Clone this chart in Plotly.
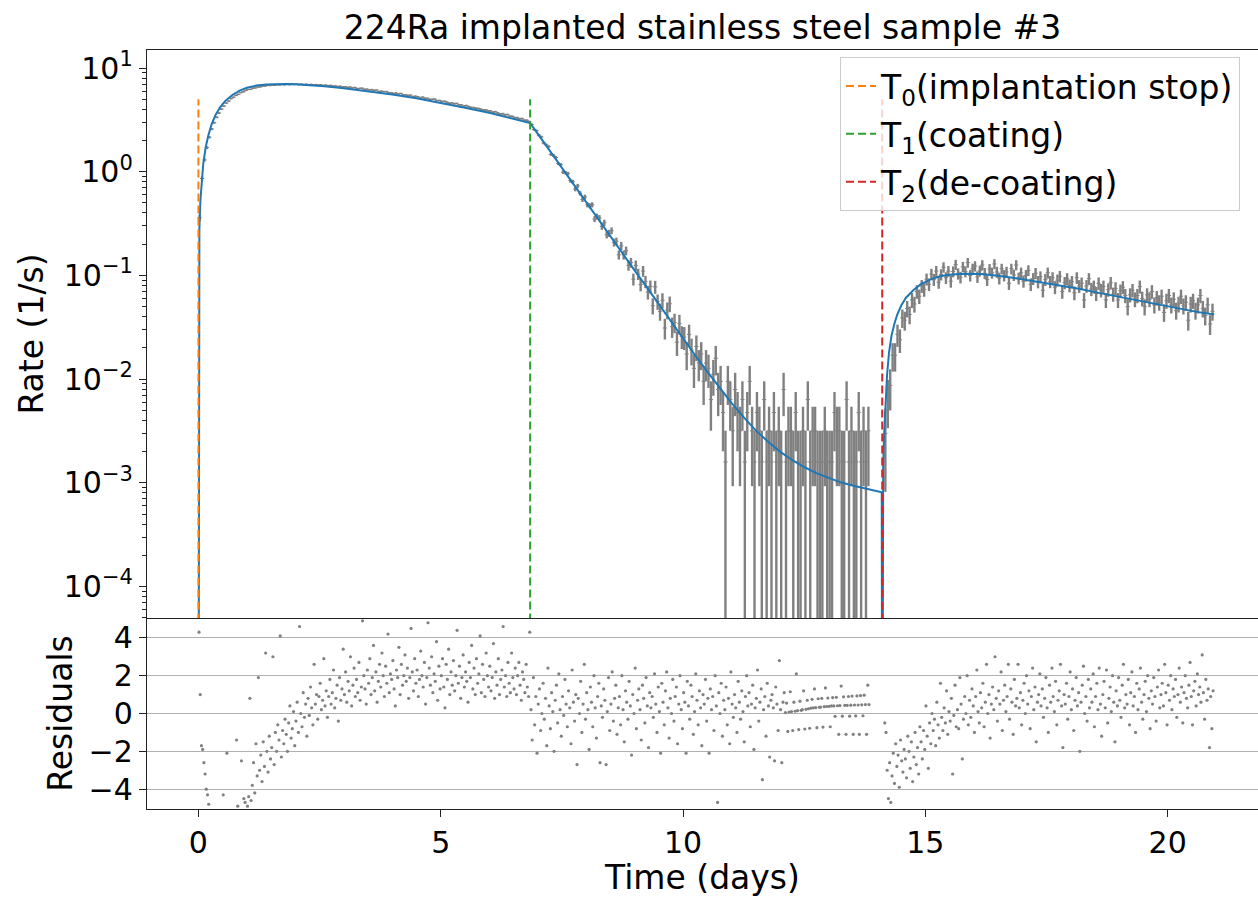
import numpy as np
import plotly.graph_objects as go
from plotly.subplots import make_subplots

TITLE = "224Ra implanted stainless steel sample #3"

# ---- marker times (days) ----
T_TIMES = [0.0, 6.845, 14.11]
T_NAMES = ["T<sub>0</sub>(implantation stop)", "T<sub>1</sub>(coating)", "T<sub>2</sub>(de-coating)"]
T_COLORS = ["#ff7f0e", "#2ca02c", "#d62728"]
T_LINE_TOP = 5.0
T_LINE_BOTTOM = 1e-7

# ---- fitted curve ----
fit1_t = [0.0, 0.005, 0.01, 0.02, 0.04, 0.07, 0.10, 0.15, 0.20, 0.27, 0.35, 0.45, 0.55, 0.70, 0.85, 1.00,
          1.20, 1.40, 1.60, 1.80, 2.00, 2.30, 2.60, 3.00, 3.50, 4.00, 4.50, 5.00, 5.50, 6.00, 6.50, 6.845]
fit1_r = [1e-7, 0.07, 0.14, 0.28, 0.52, 0.88, 1.2, 1.72, 2.2, 2.85, 3.5, 4.2, 4.8, 5.5, 6.05, 6.45,
          6.78, 6.95, 7.02, 7.02, 6.97, 6.85, 6.68, 6.4, 6.0, 5.55, 5.1, 4.62, 4.15, 3.7, 3.25, 2.95]
fit2_t = [7.0, 7.25, 7.5, 7.75, 8.0, 8.25, 8.5, 8.75, 9.0, 9.25, 9.5, 9.75, 10.0, 10.25, 10.5, 10.75,
          11.0, 11.25, 11.5, 11.75, 12.0, 12.25, 12.5, 12.75, 13.0, 13.25, 13.5, 13.75, 14.0, 14.10]
fit2_r = [2.33, 1.59, 1.09, 0.745, 0.51, 0.35, 0.24, 0.163, 0.112, 0.077, 0.0525, 0.036, 0.0247, 0.017,
          0.0118, 0.0083, 0.0059, 0.0043, 0.0032, 0.0025, 0.0020, 0.00166, 0.00142, 0.00124, 0.00111,
          0.00101, 0.00094, 0.00088, 0.00083, 0.00081]
fit3_t = [14.111, 14.13, 14.15, 14.18, 14.21, 14.25, 14.30, 14.36, 14.42, 14.50, 14.60, 14.75, 14.90,
          15.10, 15.30, 15.55, 15.85, 16.15, 16.45, 16.80, 17.10, 17.50, 17.80, 18.20, 18.50, 18.85,
          19.20, 19.55, 19.90, 20.30, 20.60, 20.96]
fit3_r = [1e-7, 0.0015, 0.003, 0.0058, 0.011, 0.018, 0.026, 0.034, 0.042, 0.051, 0.061, 0.072, 0.082,
          0.091, 0.098, 0.102, 0.104, 0.103, 0.100, 0.095, 0.090, 0.084, 0.080, 0.074, 0.069, 0.064,
          0.0595, 0.055, 0.051, 0.047, 0.0445, 0.042]

# ---- measured rates (1/s), bins every 0.05 d ----
BIN_SECONDS = 630.0
RATE_STEP = 0.05
rate1_start = 0.025
rate1 = [0.36, 0.86, 1.30, 1.71, 2.15, 2.58, 2.97, 3.35, 3.68, 4.02,
         4.29, 4.6, 4.81, 5.07, 5.24, 5.46, 5.58, 5.8, 5.9, 6.08,
         6.21, 6.23, 6.39, 6.44, 6.57, 6.58, 6.7, 6.7, 6.8, 6.78,
         6.87, 6.84, 6.92, 6.87, 6.96, 6.9, 6.99, 6.92, 7.02, 6.93,
         7.0, 6.92, 7.0, 6.91, 6.98, 6.89, 6.96, 6.87, 6.93, 6.83,
         6.89, 6.78, 6.85, 6.75, 6.81, 6.69, 6.72, 6.63, 6.68, 6.56,
         6.61, 6.5, 6.56, 6.44, 6.5, 6.33, 6.37, 6.39, 6.23, 6.26,
         6.13, 6.2, 6.08, 6.14, 5.93, 5.99, 5.92, 5.94, 5.79, 5.79,
         5.67, 5.74, 5.63, 5.69, 5.5, 5.52, 5.44, 5.48, 5.3, 5.35,
         5.28, 5.14, 5.24, 5.11, 5.1, 4.98, 4.99, 5.02, 4.86, 4.87,
         4.75, 4.79, 4.68, 4.58, 4.62, 4.52, 4.56, 4.42, 4.41, 4.29,
         4.35, 4.25, 4.17, 4.16, 4.09, 4.08, 4.01, 3.93, 3.95, 3.87,
         3.86, 3.75, 3.79, 3.69, 3.6, 3.63, 3.54, 3.56, 3.43, 3.42,
         3.32, 3.32, 3.24, 3.25, 3.14, 3.13, 3.04]
rate2_start = 6.875
rate2 = [2.85, 2.55, 2.49, 2.25, 2.17, 1.89, 1.82, 1.75, 1.47, 1.44,
         1.37, 1.2, 1.17, 0.99, 0.98, 0.96, 0.82, 0.8, 0.68, 0.73,
         0.62, 0.54, 0.57, 0.48, 0.47, 0.48, 0.35, 0.37, 0.358, 0.297,
         0.322, 0.247, 0.255, 0.27, 0.208, 0.213, 0.158, 0.193, 0.158, 0.173,
         0.125, 0.133, 0.092, 0.125, 0.103, 0.0816, 0.110, 0.0870, 0.0690, 0.0781,
         0.051, 0.0775, 0.0560, 0.0450, 0.0577, 0.0311, 0.0463, 0.0533, 0.0321, 0.0352,
         0.0227, 0.0343, 0.0259, 0.0254, 0.01746, 0.02698, 0.01905, 0.0127, 0.02063, 0.01429,
         0.01746, 0.00952, 0.01429, 0.0127, 0.00635, 0.01111, 0.01587, 0.00794, 0.00952, 0.00476,
         0.00159, 0.00952, 0.00635, 0.00317, 0.00794, 0.00476, 0.00317, 0.00635, 0.00159, 0.00476,
         0.00952, 0.00317, 0.00159, 0.00476, 0.00317, 0.00159, 0.00635, 0.00159, 0.00317, 0.00159,
         0.00476, 0.00159, 0.00317, 0.00159, 0.00794, 0.00159, 0.00317, 0.00317, 0.00159, 0.00476,
         0.00159, 0.00159, 0.00317, 0.00159, 0.00635, 0.00159, 0.00317, 0.00317, 0.00159, 0.00159,
         0.00159, 0.00317, 0.00159, 0.00159, 0.00159, 0.00476, 0.00317, 0.00317, 0.00159, 0.00159,
         0.00635, 0.00159, 0.00317, 0.00159, 0.00159, 0.00476, 0.00159, 0.00317, 0.00159, 0.00317]
rate3_start = 14.175
rate3 = [0.0030, 0.0066, 0.0087, 0.017, 0.017, 0.027, 0.024, 0.039, 0.037, 0.048,
         0.042, 0.058, 0.053, 0.070, 0.063, 0.079, 0.073, 0.092, 0.082, 0.103,
         0.091, 0.11, 0.086, 0.102, 0.12, 0.095, 0.11, 0.088, 0.109, 0.127,
         0.104, 0.096, 0.121, 0.109, 0.133, 0.1, 0.116, 0.123, 0.097, 0.111,
         0.126, 0.105, 0.091, 0.115, 0.106, 0.129, 0.108, 0.094, 0.116, 0.1,
         0.108, 0.084, 0.116, 0.101, 0.126, 0.094, 0.106, 0.088, 0.1, 0.112,
         0.082, 0.093, 0.105, 0.0868, 0.097, 0.072, 0.091, 0.106, 0.087, 0.095,
         0.077, 0.09, 0.098, 0.07, 0.085, 0.093, 0.08, 0.087, 0.068, 0.095,
         0.079, 0.084, 0.058, 0.079, 0.093, 0.074, 0.078, 0.067, 0.084, 0.072,
         0.078, 0.058, 0.073, 0.085, 0.066, 0.075, 0.058, 0.071, 0.077, 0.064,
         0.05, 0.065, 0.072, 0.059, 0.064, 0.078, 0.06, 0.05, 0.065, 0.059,
         0.07, 0.052, 0.061, 0.055, 0.063, 0.044, 0.057, 0.064, 0.052, 0.059,
         0.046, 0.053, 0.063, 0.051, 0.055, 0.037, 0.053, 0.057, 0.046, 0.052,
         0.064, 0.048, 0.041, 0.052, 0.034, 0.045]

# ---- residuals, every 0.025 d ----
RES_STEP = 0.025
res1_start = 0.0125
res1 = [4.3, 1.0, -1.7, -1.9, -2.6, -3.2, -4.0, -4.3, -4.8, -5.6,
        -6.1, -5.8, -6.5, -7.0, -5.9, -6.3, -6.8, -6.0, -5.7, -6.4,
        -4.3, -6.2, -5.5, -2.1, -6.0, -5.8, -6.6, -5.6, -6.1, -5.9,
        -5.7, -1.4, -4.9, -6.0, -5.5, -2.5, -5.8, -4.5, -4.7, -5.2,
        -4.9, -4.4, 0.8, -4.6, -3.8, -2.6, -4.2, -1.6, -3.3, 1.9,
        -3.0, -2.2, -3.6, -1.5, -2.8, 3.2, -2.0, -3.1, -1.2, -2.4,
        -1.8, 3.0, -2.7, -1.0, -2.0, -0.6, -1.4, 4.1, -2.3, -0.9,
        -1.6, -0.3, -1.1, -2.0, -0.5, 0.4, -1.3, -0.8, 0.1, -1.7,
        -0.4, 0.6, -1.0, 4.6, 0.0, -0.7, 1.1, -0.2, 0.5, -1.2,
        0.8, -0.1, 1.4, 0.3, -0.6, 2.6, 0.5, 1.0, -0.3, 0.9,
        1.6, 0.2, 0.7, 2.9, 0.4, 1.2, -0.2, 0.9, 1.8, 0.5,
        1.1, 2.3, 0.3, 0.8, 1.5, -0.4, 1.9, 0.7, 1.3, 3.4,
        1.0, 2.2, 0.6, 1.7, 1.2, 3.0, 0.4, 1.5, 2.4, 0.9,
        1.8, 1.1, 2.7, 0.7, 1.4, 4.9, 2.0, 1.3, 0.5, 2.3,
        1.6, 2.9, 1.0, 1.9, 3.6, 1.2, 2.2, 0.6, 1.7, 2.6,
        1.4, 3.2, 2.0, 0.9, 2.5, 1.6, 4.2, 1.1, 2.1, 1.8,
        2.8, 1.3, 0.4, 2.3, 1.9, 3.5, 1.0, 2.6, 1.5, 2.0,
        3.1, 1.7, 2.4, 0.8, 1.9, 4.5, 2.2, 1.2, 2.9, 1.6,
        2.3, 0.9, 1.8, 3.3, 2.0, 1.4, 2.7, 0.5, 1.9, 4.8,
        2.4, 1.5, 3.0, 1.1, 2.1, 1.7, 3.8, 0.7, 2.5, 1.3,
        2.0, 2.9, 1.4, 0.3, 2.6, 1.8, 3.4, 1.0, 2.2, 1.5,
        2.8, 1.2, 2.0, 4.4, 1.6, 2.5, 0.8, 1.9, 3.1, 1.4,
        2.2, 1.7, 0.6, 2.7, 1.9, 3.6, 1.3, 2.4, 1.0, 2.9,
        1.6, 2.1, 4.1, 1.1, 2.6, 1.8, 0.9, 3.2, 2.0, 1.4,
        2.5, 1.2, 1.9, 3.7, 0.8, 2.2, 1.5, 2.9, 1.0, 1.8,
        2.3, 4.6, 1.4, 2.0, 0.9, 2.7, 1.6, 1.1, 3.2, 1.9,
        1.3, 2.4, 1.0, 2.0, 2.7, 1.5, 0.7, 2.2, 1.8, 1.1,
        2.6, 1.4, 0.9, 4.3]
res2_start = 6.8625
res2 = [0.2, -1.4, 1.9, -0.6, 0.9, -2.1, 0.5, 1.3, -0.9, 0.0,
        1.6, -0.3, 0.8, -1.7, 2.4, 0.4, -0.8, 1.1, 0.1, -2.0,
        0.7, 1.5, -0.5, 2.1, 0.2, -1.2, 0.9, -0.1, 1.8, 0.5,
        -0.7, 1.2, 0.3, -1.6, 2.3, 0.6, -0.4, 1.0, -2.7, 0.8,
        0.0, 1.7, -1.0, 0.5, 2.6, -0.3, 1.1, 0.2, -1.9, 1.4,
        0.6, -0.7, 2.0, 0.3, -1.3, 0.9, 1.6, -2.6, 0.4, -0.2,
        1.3, 0.7, -2.7, 0.1, 1.9, -0.9, 0.5, 2.2, -0.4, 0.8,
        1.5, -1.1, 0.3, 0.9, -0.6, 2.0, 0.2, -1.5, 1.2, 0.6,
        -0.3, 1.7, 0.4, -2.2, 1.0, 0.0, 2.4, -0.8, 0.7, 1.3,
        0.2, -1.4, 1.5, 0.8, -0.5, 1.9, 0.4, -1.8, 1.1, 0.3,
        0.9, -0.2, 2.1, 0.5, -1.0, 1.4, 0.1, -2.1, 1.6, 0.6,
        -0.6, 1.2, 2.2, 0.3, -1.3, 0.8, 0.0, 1.8, -0.4, 0.9,
        1.4, -1.6, 0.5, 2.0, 0.2, -0.8, 1.1, 0.6, -2.1, 1.7,
        0.4, -0.3, 1.5, 0.9, -1.1, 0.1, 2.1, 0.7, -0.6, 1.2,
        0.3, -1.7, 1.0, 0.5, 1.8, -0.4, 0.8, -2.1, 1.3, 0.2,
        0.9, -0.9, 2.0, 0.4, -4.7, 1.1, 0.0, 1.6, -1.2, 0.7,
        0.2, 1.4, -0.6, 0.8, -1.6, 2.2, 0.5, -0.2, 1.0, 0.3,
        -1.0, 1.7, 0.6, -0.3, 1.2, 0.1, -1.5, 0.9, 2.0, 0.4,
        1.1, -0.7, 0.5, 1.5, -1.9, 0.3, 0.8, 2.3, -0.4, 0.6,
        1.3, -3.5, 0.2, 0.9, -1.2, 1.6, 0.4, -2.3, 0.7, 1.0,
        0.3, -2.5, 1.4, 0.5, -0.9, 2.8, 0.2, -2.6, 0.6, 1.1,
        0.05, 0.55, -0.95, 0.08, 1.15, 0.1, -0.9, 0.6, 0.12, 2.1,
        0.15, -0.85, 0.65, 0.17, 0.2, 1.2, -0.82, 0.22, 0.7, 0.25,
        -0.78, 0.28, 0.75, 0.3, 1.3, 0.31, -0.75, 0.78, 0.33, 0.34,
        0.8, -0.72, 0.36, 1.35, 0.37, 0.82, 0.38, -0.7, 0.4, 0.84,
        0.4, -0.15, 0.86, 0.41, -1.1, 0.42, 1.45, -0.14, 0.88, 0.43,
        -1.1, 0.43, 0.9, -0.14, 0.44, 0.92, -1.1, 0.45, -0.13, 0.93,
        0.45, -1.1, 0.95, 0.46, -0.12, 0.97, 0.47, -1.1, 1.5, 0.47]
res3_start = 14.1625
res3 = [-0.5, -1.0, -3.0, -4.5, -2.6, -4.7, -3.3, -2.1, -3.7, -1.6,
        -2.8, -2.2, -3.9, -1.4, -2.5, -3.1, -1.9, -2.4, -3.4, -1.2,
        -2.0, -2.9, -1.5, -3.6, -2.3, -1.0, -2.7, -1.8, -3.2, -0.7,
        -1.5, -2.4, -0.9, -1.9, 0.4, -1.2, -2.9, -0.5, -1.6, 0.0,
        -0.9, -0.3, -1.7, 0.6, -0.6, -1.3, 1.6, -0.2, -0.9, 0.3,
        -0.5, 1.2, -1.1, 0.1, -0.4, 0.8, -3.2, -0.1, 1.5, -0.7,
        0.2, -0.8, 1.9, 0.5, -2.4, -0.3, 0.9, 0.0, 2.0, -0.6,
        0.7, -0.2, 1.3, 0.4, -1.0, 0.9, 2.3, 0.1, -0.5, 1.1,
        0.3, 1.6, -0.7, 0.6, 2.6, 0.0, 1.0, -1.3, 0.5, 1.4,
        0.2, 3.0, 0.8, -0.4, 1.2, 0.5, 2.2, -0.9, 0.7, 1.5,
        0.1, 0.9, 2.6, -0.3, 1.3, 0.6, -1.1, 1.8, 0.4, 0.8,
        2.6, 0.3, 1.1, -0.6, 0.7, 1.6, 0.0, 2.0, 0.5, 1.2,
        -0.8, 0.9, 2.4, 0.2, 1.4, -1.5, 0.6, 1.0, 2.1, 0.4,
        1.3, -0.2, 0.8, 1.9, 0.3, -1.0, 1.5, 0.6, 2.4, 0.9,
        0.1, 1.7, -0.6, 0.7, 1.2, 2.6, 0.4, -1.8, 1.0, 0.5,
        1.6, -0.3, 0.9, 2.2, 0.2, 1.3, -0.9, 0.7, 1.9, 0.4,
        1.1, -2.0, 0.6, 1.5, 2.5, 0.0, 0.9, -0.4, 1.8, 0.3,
        1.3, 0.6, 2.1, -0.7, 0.9, 1.6, 0.2, 2.4, 0.5, -1.2,
        1.0, 1.7, 0.3, 2.3, -0.5, 0.8, 1.4, 0.1, 2.0, 0.6,
        -1.5, 1.2, 0.4, 1.9, 0.7, -0.2, 1.5, 2.6, 0.3, 1.0,
        0.5, 1.8, -0.6, 1.1, 2.2, 0.4, 0.9, -1.0, 1.6, 0.2,
        1.3, 2.4, 0.6, -0.3, 1.0, 1.7, 0.1, 2.0, 0.8, -0.8,
        1.2, 0.5, 1.9, 0.9, -0.4, 1.4, 2.3, 0.3, 1.0, 1.6,
        0.4, 2.6, 1.1, -0.6, 1.5, 0.7, 2.0, 0.2, 1.3, 0.9,
        1.8, -0.2, 1.0, 2.4, 0.6, 1.4, -0.5, 1.1, 2.0, 0.8,
        0.3, 1.5, 2.7, 0.9, -0.6, 1.2, 1.7, 0.4, 2.1, 1.0,
        1.4, 0.6, 3.1, 1.1, -0.3, 1.8, 0.7, 1.3, -1.8, 0.9,
        -0.8, 1.2]

# ---- axis ticks ----
X_TICKS = [0, 5, 10, 15, 20]
Y_LOG_TICKS = [1e-4, 1e-3, 1e-2, 1e-1, 1e0, 1e1]
Y_LOG_LABELS = ["10<sup>\u22124</sup>", "10<sup>\u22123</sup>", "10<sup>\u22122</sup>",
                "10<sup>\u22121</sup>", "10<sup>0</sup>", "10<sup>1</sup>"]
RES_TICKS = [-4, -2, 0, 2, 4]


def bins(start, step, n):
    return [round(start + step * i, 4) for i in range(n)]


# assemble data
t_rate = bins(rate1_start, RATE_STEP, len(rate1)) + bins(rate2_start, RATE_STEP, len(rate2)) + \
    bins(rate3_start, RATE_STEP, len(rate3))
rate = rate1 + rate2 + rate3
rate_y = [r if r > 0 else None for r in rate]
rate_err = [float(np.sqrt(r / BIN_SECONDS)) if r > 0 else 0.0 for r in rate]

t_res = bins(res1_start, RES_STEP, len(res1)) + bins(res2_start, RES_STEP, len(res2)) + \
    bins(res3_start, RES_STEP, len(res3))
res = res1 + res2 + res3

fit_t = fit1_t + fit2_t + fit3_t
fit_r = fit1_r + fit2_r + fit3_r

FONT = "DejaVu Sans"
GREY = "#808080"
BLUE = "#1f77b4"
SPINE = "#222222"

# layout in pixels
W, H = 1258, 897
M_L, M_R, M_T, M_B = 147, 0, 50, 88
TOP_H, BOT_H = 568, 191

fig = make_subplots(rows=2, cols=1, shared_xaxes=True, vertical_spacing=0,
                    row_heights=[TOP_H, BOT_H])

fig.add_trace(go.Scatter(
    x=t_rate, y=rate_y, mode="markers",
    marker=dict(symbol="line-ew-open", size=3, color=GREY, line=dict(color=GREY, width=1)),
    error_y=dict(type="data", array=rate_err, color=GREY, thickness=2.4, width=0),
    showlegend=False, hoverinfo="skip"), row=1, col=1)

fig.add_trace(go.Scatter(
    x=fit_t, y=fit_r, mode="lines", line=dict(color=BLUE, width=2),
    showlegend=False, hoverinfo="skip"), row=1, col=1)

for i, (t, name, c) in enumerate(zip(T_TIMES, T_NAMES, T_COLORS)):
    fig.add_trace(go.Scatter(
        x=[t, t], y=[T_LINE_BOTTOM, T_LINE_TOP], mode="lines", name=name,
        legendgroup="g%d" % i,
        line=dict(color=c, width=2, dash="8px,4px")), row=1, col=1)

fig.add_trace(go.Scatter(
    x=t_res, y=res, mode="markers",
    marker=dict(symbol="circle", size=3.2, color=GREY),
    showlegend=False, hoverinfo="skip"), row=2, col=1)

axis_line = dict(showline=True, linecolor=SPINE, linewidth=1.3, automargin=False)
tickfont = dict(family=FONT, size=30, color="black")
titlefont = dict(family=FONT, size=33, color="black")

fig.update_xaxes(range=[-1.061, 21.864], showgrid=False, zeroline=False, **axis_line)
fig.update_xaxes(row=1, col=1, mirror=True, ticks="", showticklabels=False)
fig.update_xaxes(row=2, col=1, mirror=False, ticks="outside", ticklen=7, tickwidth=1.3,
                 tickcolor=SPINE, tickvals=X_TICKS, ticktext=[str(v) for v in X_TICKS],
                 tickfont=tickfont,
                 title=dict(text="Time (days)", font=titlefont, standoff=4))

minor_vals = [k * 10.0 ** e for e in range(-5, 2) for k in range(2, 10)]
fig.update_yaxes(row=1, col=1, type="log", range=[-4.304, 1.174], showgrid=False,
                 zeroline=False, ticks="outside", ticklen=7, tickwidth=1.3, tickcolor=SPINE,
                 tickvals=Y_LOG_TICKS, ticktext=Y_LOG_LABELS, tickfont=tickfont,
                 minor=dict(ticks="outside", ticklen=4, tickwidth=1, tickcolor=SPINE,
                            tickmode="array", tickvals=minor_vals, showgrid=False),
                 title=dict(text="Rate (1/s)", font=titlefont, standoff=10), **axis_line)
fig.update_yaxes(row=2, col=1, range=[-5.05, 5.05], tickvals=RES_TICKS,
                 showgrid=True, gridcolor="#b0b0b0", gridwidth=1.3, zeroline=False,
                 ticks="outside", ticklen=7, tickwidth=1.3, tickcolor=SPINE,
                 tickfont=tickfont,
                 title=dict(text="Residuals", font=titlefont, standoff=6), **axis_line)

fig.update_layout(
    width=W, height=H,
    margin=dict(l=M_L, r=M_R, t=M_T, b=M_B, autoexpand=False),
    paper_bgcolor="white", plot_bgcolor="white",
    font=dict(family=FONT, color="black"),
    title=dict(text=TITLE, font=dict(family=FONT, size=33, color="black"),
               x=0.5, xref="paper", xanchor="center", y=1 - 27 / H, yref="container",
               yanchor="middle", automargin=False),
    legend=dict(x=(840 - M_L) / (W - M_L - M_R), y=1 - 7 / (H - M_T - M_B),
                xanchor="left", yanchor="top", tracegroupgap=2,
                bgcolor="rgba(255,255,255,0.8)", bordercolor="#cccccc", borderwidth=1,
                font=dict(family=FONT, size=33, color="black")),
)

# page body has a default 8px margin; remove it so the figure sits at the window origin
fig.write_html("out.html", config={"displayModeBar": False},
               post_script="document.body.style.margin='0';document.body.style.overflow='hidden';")
